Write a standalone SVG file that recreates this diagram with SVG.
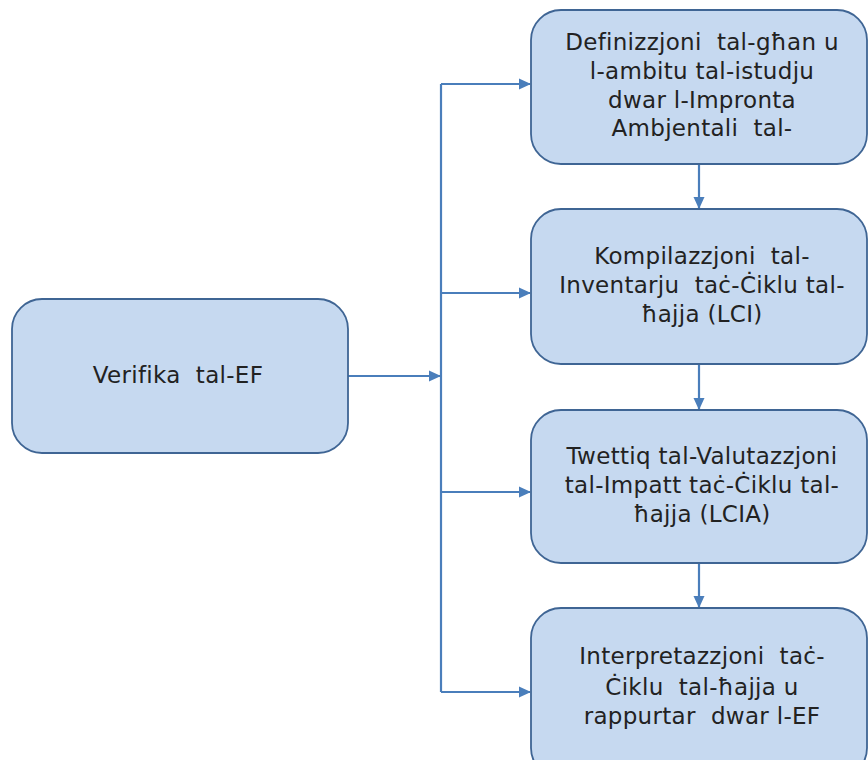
<svg xmlns="http://www.w3.org/2000/svg" width="868" height="760" viewBox="0 0 868 760">
<defs>
<marker id="ah" markerWidth="12" markerHeight="12" refX="11" refY="6" orient="auto" markerUnits="userSpaceOnUse" viewBox="0 0 12 12">
<path d="M0,0.5 L12,6 L0,11.5 z" fill="#4a7ebb"/>
</marker>
<style>
.box{fill:#c6d9f0;stroke:#3f6594;stroke-width:1.8}
.t{font-family:"DejaVu Sans",Verdana,sans-serif;font-size:23px;letter-spacing:0.3px;fill:#222;text-anchor:middle;white-space:pre}
.c{stroke:#4a7ebb;stroke-width:2.2;fill:none}
</style>
</defs>
<rect width="868" height="760" fill="#fff"/>
<g id="connectors">
<line class="c" x1="441" y1="84" x2="441" y2="692"/>
<line class="c" x1="348" y1="376" x2="440" y2="376" marker-end="url(#ah)"/>
<line class="c" x1="441" y1="84" x2="530" y2="84" marker-end="url(#ah)"/>
<line class="c" x1="441" y1="293" x2="530" y2="293" marker-end="url(#ah)"/>
<line class="c" x1="441" y1="492" x2="530" y2="492" marker-end="url(#ah)"/>
<line class="c" x1="441" y1="692" x2="530" y2="692" marker-end="url(#ah)"/>
<line class="c" x1="699" y1="164" x2="699" y2="208" marker-end="url(#ah)"/>
<line class="c" x1="699" y1="364" x2="699" y2="409" marker-end="url(#ah)"/>
<line class="c" x1="699" y1="563" x2="699" y2="607" marker-end="url(#ah)"/>
</g>
<g id="n0">
<rect class="box" x="12" y="299" width="336" height="154" rx="30"/>
<text class="t" x="178" y="383">Verifika  tal-EF</text>
</g>
<g id="n1">
<rect class="box" x="531" y="10" width="336" height="154" rx="30"/>
<text class="t" x="702" y="50">Definizzjoni  tal-għan u</text>
<text class="t" x="702" y="79">l-ambitu tal-istudju</text>
<text class="t" x="702" y="108">dwar l-Impronta</text>
<text class="t" x="702" y="136">Ambjentali  tal-</text>
</g>
<g id="n2">
<rect class="box" x="531" y="209" width="336" height="155" rx="30"/>
<text class="t" x="702" y="264">Kompilazzjoni  tal-</text>
<text class="t" x="702" y="293">Inventarju  taċ-Ċiklu tal-</text>
<text class="t" x="702" y="322">ħajja (LCI)</text>
</g>
<g id="n3">
<rect class="box" x="531" y="410" width="336" height="153" rx="30"/>
<text class="t" x="702" y="464">Twettiq tal-Valutazzjoni</text>
<text class="t" x="702" y="493">tal-Impatt taċ-Ċiklu tal-</text>
<text class="t" x="702" y="522">ħajja (LCIA)</text>
</g>
<g id="n4">
<rect class="box" x="531" y="608" width="336" height="170" rx="30"/>
<text class="t" x="702" y="664">Interpretazzjoni  taċ-</text>
<text class="t" x="702" y="695">Ċiklu  tal-ħajja u</text>
<text class="t" x="702" y="724">rappurtar  dwar l-EF</text>
</g>
</svg>
